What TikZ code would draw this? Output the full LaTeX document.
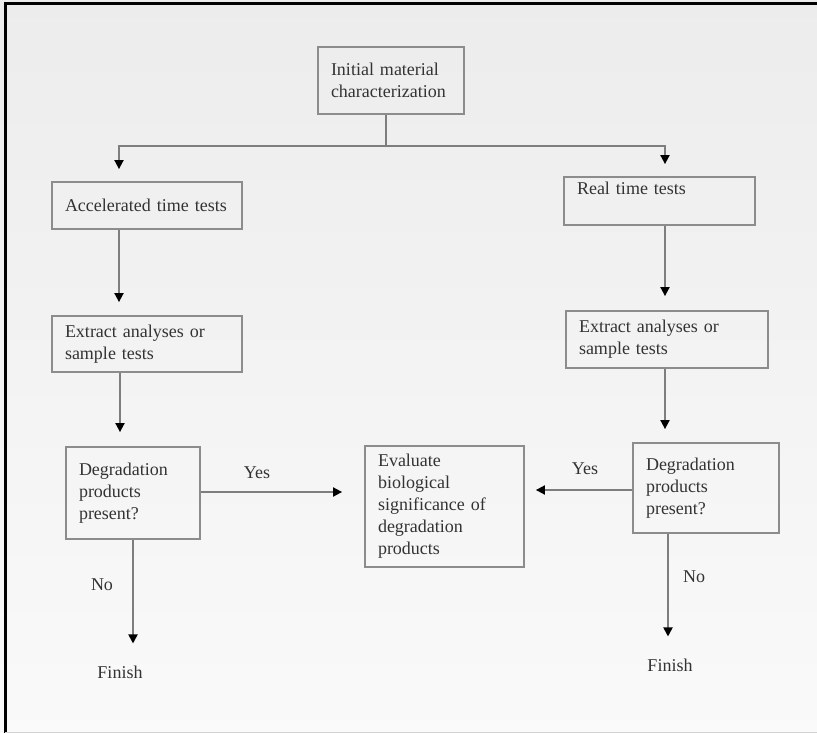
\documentclass[tikz,border=0pt]{standalone}
\usepackage{fontspec}
\setmainfont{Liberation Serif}
\usetikzlibrary{arrows.meta}
\definecolor{boxline}{HTML}{8C8C8C}
\definecolor{conline}{HTML}{7E7E7E}
\definecolor{txt}{HTML}{333333}
\definecolor{bgtop}{HTML}{ECECEC}
\definecolor{bgbot}{HTML}{FAFAFA}
\begin{document}
\begin{tikzpicture}[x=1pt,y=-1pt,
  every node/.style={font=\fontsize{18}{22}\selectfont, text=txt},
  stepbox/.style={draw=boxline, line width=1.8pt, align=left,
    inner xsep=13pt, inner ysep=0pt, anchor=center},
  arr/.style={draw=conline, line width=1.8pt, -{Triangle[length=9pt,width=9pt,fill=black,color=black]}},
  con/.style={draw=conline, line width=1.8pt},
  lbl/.style={inner sep=0pt}]
\useasboundingbox (0,0) rectangle (817,733);
\shade[top color=bgtop, bottom color=bgbot] (-10,-10) rectangle (830,745);
\fill[black] (3.5,2.5) rectangle (830,5.5);
\fill[black] (3.5,2.5) rectangle (6.5,745);
\fill[gray!35] (5,731.5) rectangle (830,732.5);

% boxes
\node[stepbox, text width=120pt, minimum height=67pt] (init) at (391,80.5) {Initial material\\characterization};
\node[stepbox, text width=164pt, minimum height=47pt] (acc) at (147,205.5) {Accelerated time tests};
\node[stepbox, text width=165pt, minimum height=48pt] (real) at (659.5,201) {Real time tests\\[4pt]\mbox{}};
\node[stepbox, text width=164pt, minimum height=56pt] (extL) at (147,344) {Extract analyses or\\sample tests};
\node[stepbox, text width=176pt, minimum height=57pt] (extR) at (667,339.5) {Extract analyses or\\sample tests};
\node[stepbox, text width=108pt, minimum height=92pt] (degL) at (133,493) {Degradation\\products\\present?};
\node[stepbox, text width=120pt, minimum height=90pt] (degR) at (706,488) {Degradation\\products\\present?};
\node[stepbox, text width=133pt, minimum height=121pt] (eval) at (444.5,506.5) {Evaluate\\biological\\significance of\\degradation\\products};

% end labels
\node[lbl] (finL) at (120,672) {Finish};
\node[lbl] (finR) at (670,665) {Finish};

% branch coordinates
\coordinate (xl) at (119,0);
\coordinate (xr) at (665,0);
\coordinate (split) at (386,146);
\coordinate (xlb) at (120,0);
\coordinate (xdl) at (133,0);
\coordinate (xdr) at (668,0);

% top split
\draw[con] (init.south -| split) -- (split);
\draw[arr, shorten >=12pt] (split -| xr) -- (xl |- split) -- (xl |- acc.north);
\draw[arr, shorten >=12pt] (split) -- (xr |- split) -- (xr |- real.north);

% left column
\draw[arr, shorten >=13pt] (acc.south -| xl) -- (extL.north -| xl);
\draw[arr, shorten >=14pt] (extL.south -| xlb) -- (degL.north -| xlb);

% right column
\draw[arr, shorten >=14pt] (real.south -| xr) -- (extR.north -| xr);
\draw[arr, shorten >=13pt] (extR.south -| xr) -- (degR.north -| xr);

% yes branches
\draw[arr, shorten >=22pt] (degL.east |- 0,492) -- (eval.west |- 0,492);
\draw[arr, shorten >=11pt] (degR.west |- 0,490) -- (eval.east |- 0,490);
\node[lbl] at (257,473) {Yes};
\node[lbl] at (585,469) {Yes};

% no branches
\draw[arr, shorten >=22pt] (degL.south -| xdl) -- (finL.north -| xdl);
\draw[arr, shorten >=22pt] (degR.south -| xdr) -- (finR.north -| xdr);
\node[lbl] at (102,585) {No};
\node[lbl] at (694,577) {No};
\end{tikzpicture}
\end{document}
